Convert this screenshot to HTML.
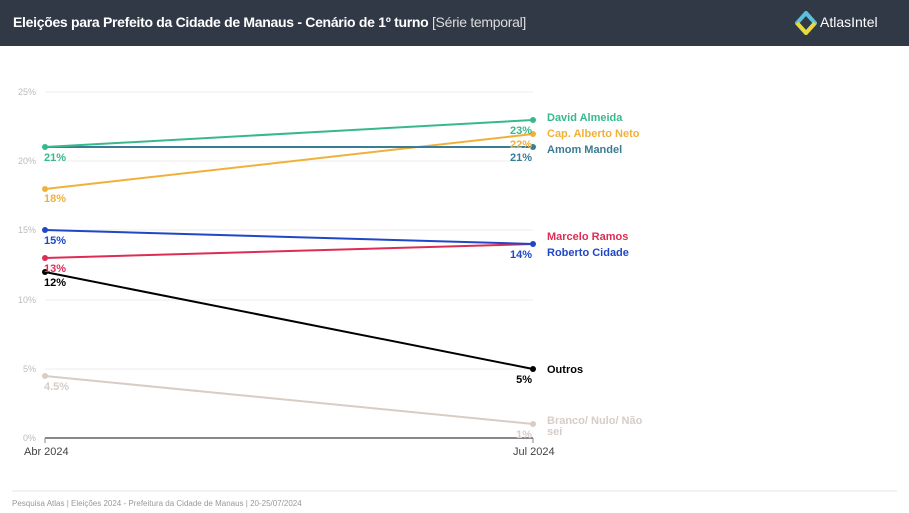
<!DOCTYPE html>
<html><head><meta charset="utf-8"><style>
body{margin:0;width:909px;height:513px;background:#fff;font-family:"Liberation Sans",sans-serif;overflow:hidden;position:relative}
.hdr{position:absolute;left:0;top:0;width:909px;height:46px;background:#323946;color:#fff}
.t{position:absolute;left:13px;top:14px;font-size:14px;font-weight:bold;letter-spacing:-0.3px}
.t span{font-weight:normal;color:#ddd}
.logo{position:absolute;left:820px;top:14px;font-size:14px}
</style></head><body>
<div class="hdr"><div class="t">Eleições para Prefeito da Cidade de Manaus - Cenário de 1º turno <span>[Série temporal]</span></div>
<svg style="position:absolute;left:795px;top:11px" width="22" height="24"><path d="M11 2 L20 12 L11 22 L2 12 Z" fill="none" stroke="#5bc0de" stroke-width="4"/><path d="M2 12 L11 22 L20 12" fill="none" stroke="#e8d93c" stroke-width="4"/></svg>
<div class="logo">AtlasIntel</div></div>
<svg width="909" height="513" style="position:absolute;left:0;top:0" font-family="Liberation Sans, sans-serif">
<g stroke="#eee" stroke-width="1">
<line x1="45" x2="533" y1="92" y2="92"/><line x1="45" x2="533" y1="161" y2="161"/><line x1="45" x2="533" y1="230" y2="230"/><line x1="45" x2="533" y1="300" y2="300"/><line x1="45" x2="533" y1="369" y2="369"/></g>
<g font-size="9" fill="#bbb" text-anchor="end"><text x="36" y="95">25%</text><text x="36" y="164">20%</text><text x="36" y="233">15%</text><text x="36" y="303">10%</text><text x="36" y="372">5%</text><text x="36" y="441">0%</text></g>
<line x1="45" x2="533" y1="438" y2="438" stroke="#888" stroke-width="2"/>
<line x1="45" x2="45" y1="438" y2="443" stroke="#888"/><line x1="533" x2="533" y1="438" y2="443" stroke="#888"/>
<g font-size="11" fill="#444"><text x="24" y="455">Abr 2024</text><text x="513" y="455">Jul 2024</text></g>
<g stroke-width="2" fill="none">
<line x1="45" y1="376" x2="533" y2="424" stroke="#d8ccc6"/>
<line x1="45" y1="272" x2="533" y2="369" stroke="#000"/>
<line x1="45" y1="258" x2="533" y2="244" stroke="#dc2e55"/>
<line x1="45" y1="230" x2="533" y2="244" stroke="#1f47c8"/>
<line x1="45" y1="189" x2="533" y2="134" stroke="#f0b13a"/>
<line x1="45" y1="147" x2="533" y2="147" stroke="#3a7c93"/>
<line x1="45" y1="147" x2="533" y2="120" stroke="#39b98b"/>
</g>
<g>
<circle cx="45" cy="376" r="3" fill="#d8ccc6"/><circle cx="533" cy="424" r="3" fill="#d8ccc6"/>
<circle cx="45" cy="272" r="3" fill="#000"/><circle cx="533" cy="369" r="3" fill="#000"/>
<circle cx="45" cy="258" r="3" fill="#dc2e55"/><circle cx="45" cy="230" r="3" fill="#1f47c8"/><circle cx="533" cy="244" r="3" fill="#1f47c8"/>
<circle cx="45" cy="189" r="3" fill="#f0b13a"/><circle cx="533" cy="134" r="3" fill="#f0b13a"/>
<circle cx="533" cy="147" r="3" fill="#3a7c93"/><circle cx="45" cy="147" r="3" fill="#39b98b"/><circle cx="533" cy="120" r="3" fill="#39b98b"/>
</g>
<g font-size="11" font-weight="bold">
<text x="44" y="161" fill="#39b98b">21%</text><text x="44" y="202" fill="#f0b13a">18%</text>
<text x="44" y="244" fill="#1f47c8">15%</text><text x="44" y="272" fill="#dc2e55">13%</text>
<text x="44" y="286" fill="#000">12%</text><text x="44" y="390" fill="#d8ccc6">4.5%</text>
<g text-anchor="end"><text x="532" y="134" fill="#39b98b">23%</text><text x="532" y="148" fill="#f0b13a">22%</text><text x="532" y="161" fill="#3a7c93">21%</text>
<text x="532" y="258" fill="#1f47c8">14%</text><text x="532" y="383" fill="#000">5%</text><text x="532" y="438" fill="#d8ccc6">1%</text></g>
<text x="547" y="121" fill="#39b98b">David Almeida</text>
<text x="547" y="137" fill="#f0b13a">Cap. Alberto Neto</text>
<text x="547" y="153" fill="#3a7c93">Amom Mandel</text>
<text x="547" y="240" fill="#dc2e55">Marcelo Ramos</text>
<text x="547" y="256" fill="#1f47c8">Roberto Cidade</text>
<text x="547" y="373" fill="#000">Outros</text>
<text x="547" y="424" fill="#d8ccc6">Branco/ Nulo/ Não</text>
<text x="547" y="435" fill="#d8ccc6">sei</text>
</g>
<line x1="12" x2="897" y1="491" y2="491" stroke="#e6e6e6"/>
<text x="12" y="506" font-size="8" fill="#999">Pesquisa Atlas  |  Eleições 2024 - Prefeitura da Cidade de Manaus  |  20-25/07/2024</text>
</svg>
</body></html>
